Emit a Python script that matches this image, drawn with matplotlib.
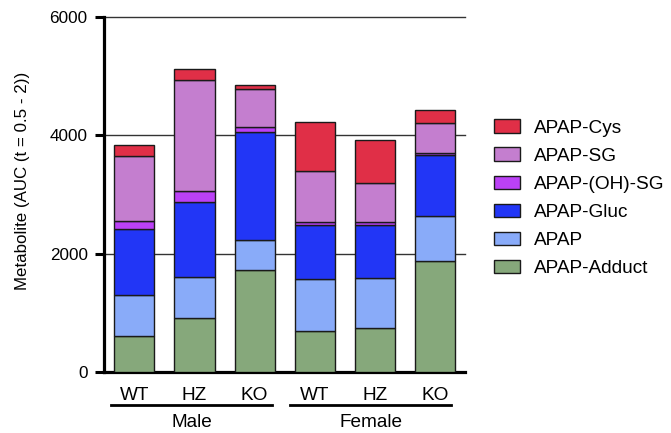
import numpy as np
import matplotlib.pyplot as plt
from matplotlib.patches import Patch

plt.rcParams['font.family'] = ['Liberation Sans', 'DejaVu Sans']

genotypes = ['WT', 'HZ', 'KO', 'WT', 'HZ', 'KO']
groups = ['Male', 'Female']

# stacked segment values (bottom to top)
adduct = [604, 904, 1717, 694, 745, 1879]
apap = [689, 699, 518, 875, 847, 757]
gluc = [1118, 1265, 1818, 915, 892, 1033]
oh_sg = [135, 186, 84, 56, 56, 28]
sg = [1111, 1879, 649, 863, 660, 513]
cys = [176, 191, 73, 819, 717, 226]

series = [adduct, apap, gluc, oh_sg, sg, cys]
names = ['APAP-Adduct', 'APAP', 'APAP-Gluc', 'APAP-(OH)-SG', 'APAP-SG', 'APAP-Cys']
colors = ['#86a87b', '#89abf9', '#2236f6', '#bb41f6', '#c47ecf', '#e02f47']

fig = plt.figure(figsize=(6.71, 4.33), dpi=100)
ax = fig.add_axes([0.1555, 0.1416, 0.5375, 0.8184])

x = np.arange(len(genotypes))
bottom = np.zeros(len(genotypes))
for vals, c in zip(series, colors):
    ax.bar(x, vals, width=0.667, bottom=bottom, color=c, edgecolor='#1a1a1a',
           linewidth=1.0, zorder=3)
    bottom += np.array(vals)

for yv in [2000, 4000, 6000]:
    ax.axhline(yv, color='#333333', lw=1.0, zorder=1, clip_on=False)

ax.set_xlim(-0.5, 5.5)
ax.set_ylim(0, 6000)
ax.set_yticks([0, 2000, 4000, 6000])
ax.set_xticks(x)
ax.set_xticklabels(genotypes, fontsize=13.7)
ax.tick_params(axis='x', length=0, pad=11)
ax.tick_params(axis='y', length=6.5, width=2.2, labelsize=12.3, pad=5.5)
for s in ['top', 'right']:
    ax.spines[s].set_visible(False)
ax.spines['left'].set_linewidth(2.3)
ax.spines['bottom'].set_linewidth(2.3)
fig.text(23 / 671, 1 - 181 / 433, 'Metabolite (AUC (t = 0.5 - 2))', rotation=90,
         ha='center', va='center', fontsize=12.2)

# group underlines and labels
trans = ax.get_xaxis_transform()
spans = [(-0.393, 2.29), (2.595, 5.273)]
for (a, b), g in zip(spans, groups):
    ax.plot([a, b], [-0.094, -0.094], color='black', lw=2, transform=trans, clip_on=False)
    ax.text((a + b) / 2, -0.143, g, transform=trans, ha='center', va='center', fontsize=13.7)

handles = [Patch(facecolor=c, edgecolor='#1a1a1a', linewidth=1.0) for c in colors][::-1]
fig.legend(handles, names[::-1], loc='upper left', bbox_to_anchor=(0.7245, 0.742),
           frameon=False, fontsize=13.7, handlelength=1.38, handleheight=0.72,
           handletextpad=0.72, labelspacing=0.56, borderaxespad=0)

fig.savefig('out.png', dpi=100)
